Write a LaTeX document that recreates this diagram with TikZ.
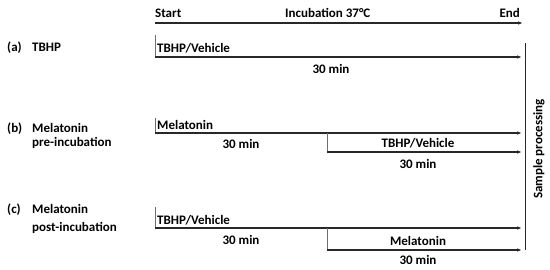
\documentclass[tikz,border=0pt]{standalone}
\usepackage{fontspec}
\setmainfont{Carlito}
\usetikzlibrary{arrows.meta,positioning}
\definecolor{LineGray}{RGB}{40,40,40}
\definecolor{MarkGray}{RGB}{110,110,110}

\begin{document}
\begin{tikzpicture}[x=1pt,y=-1pt,>={Latex[length=5pt,width=3.6pt]},
    font=\bfseries\fontsize{13}{15}\selectfont,
    period/.style={->,line width=1.1pt,LineGray},
    startbar/.style={line width=0.8pt,MarkGray},
    lbl/.style={inner sep=0pt,anchor=base}]
      \useasboundingbox (0,0) rectangle (550,270);
      % time axis
      \coordinate (T0) at (155,23);
      \coordinate (T1) at (523,23);
      \draw[period] (T0)--(T1);
      \node[lbl,anchor=base west] (start) at (155,18) {Start};
      \node[lbl,anchor=base west] (incub) at (285,18) {Incubation 37°C};
      \node[lbl,anchor=base east] (end) at (520,18) {End};
      % (a)
      \node[lbl,anchor=base west] (ka) at (7,52) {(a)};
      \node[lbl,anchor=base west] (na) at (32,52) {TBHP};
      \coordinate (A0) at (155,35);
      \coordinate (A1) at (155,57);
      \coordinate (A2) at (522,57);
      \draw[startbar] (A0)--(A1);
      \draw[period] (A1)--(A2);
      \node[lbl,anchor=base west] (ta) at (157,53) {TBHP/Vehicle};
      \node[lbl] (da) at (331,74) {30 min};
      % (b)
      \node[lbl,anchor=base west] (kb) at (7,132) {(b)};
      \node[lbl,anchor=base west] (nb) at (32,132) {Melatonin};
      \node[lbl,anchor=base west] (nb2) at (32,147) {pre-incubation};
      \coordinate (B0) at (155,118);
      \coordinate (B1) at (155,133);
      \coordinate (B2) at (522,133);
      \draw[startbar] (B0)--(B1);
      \draw[period] (B1)--(B2);
      \node[lbl,anchor=base west] (tb) at (157,130) {Melatonin};
      \node[lbl] (db) at (241,149) {30 min};
      \coordinate (B3) at (327,133);
      \coordinate (B4) at (327,152);
      \coordinate (B5) at (522,152);
      \draw[startbar] (B3)--(B4);
      \draw[period] (B4)--(B5);
      \node[lbl] (tb2) at (418,148) {TBHP/Vehicle};
      \node[lbl] (db2) at (418,168) {30 min};
      % (c)
      \node[lbl,anchor=base west] (kc) at (7,214) {(c)};
      \node[lbl,anchor=base west] (nc) at (32,214) {Melatonin};
      \node[lbl,anchor=base west] (nc2) at (32,231) {post-incubation};
      \coordinate (C0) at (155,207);
      \coordinate (C1) at (155,228);
      \coordinate (C2) at (522,228);
      \draw[startbar] (C0)--(C1);
      \draw[period] (C1)--(C2);
      \node[lbl,anchor=base west] (tc) at (157,225) {TBHP/Vehicle};
      \node[lbl] (dc) at (241,244) {30 min};
      \coordinate (C3) at (327,228);
      \coordinate (C4) at (327,250);
      \coordinate (C5) at (522,250);
      \draw[startbar] (C3)--(C4);
      \draw[period] (C4)--(C5);
      \node[lbl] (tc2) at (418,245) {Melatonin};
      \node[lbl] (dc2) at (418,265) {30 min};
      % sample processing
      \coordinate (S0) at (525,43);
      \coordinate (S1) at (525,250);
      \draw[line width=1pt,LineGray] (S0)--(S1);
      \node[rotate=90,inner sep=0pt] (sample) at (539,149) {Sample processing};
\end{tikzpicture}
\end{document}
